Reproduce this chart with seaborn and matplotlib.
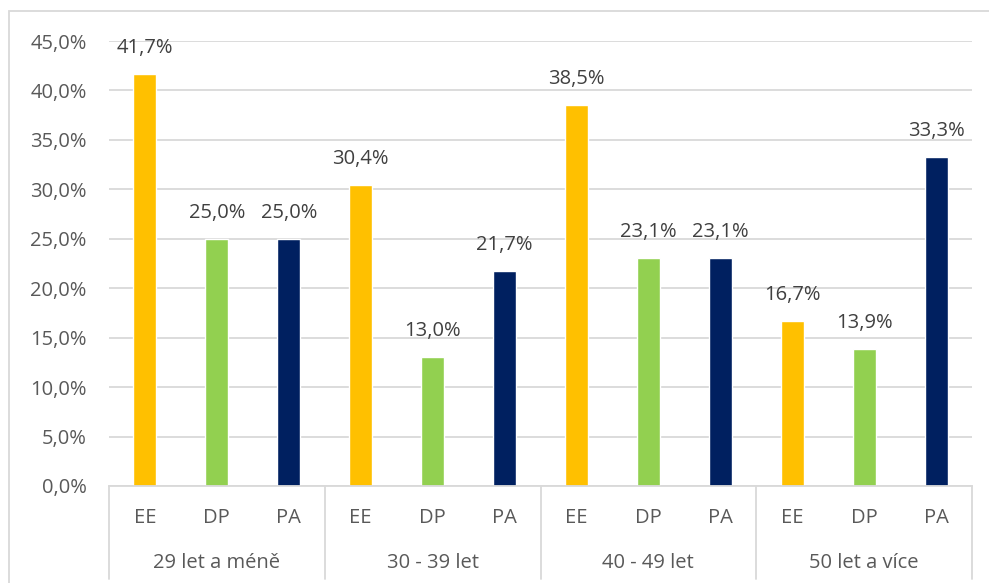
import matplotlib
matplotlib.use("Agg")
import matplotlib.pyplot as plt
import matplotlib.ticker as mticker
from matplotlib.patches import Rectangle
import pandas as pd
import seaborn as sns

groups = ["29 let a méně", "30 - 39 let", "40 - 49 let", "50 let a více"]
series = ["EE", "DP", "PA"]
ee = [41.7, 30.4, 38.5, 16.7]
dp = [25.0, 13.0, 23.1, 13.9]
pa = [25.0, 21.7, 23.1, 33.3]
colors = {"EE": "#FFC000", "DP": "#92D050", "PA": "#002060"}

rows = []
for i, g in enumerate(groups):
    for s, vals in zip(series, [ee, dp, pa]):
        rows.append({"key": g + "|" + s, "group": g, "series": s,
                     "value": vals[i] / 100})
df = pd.DataFrame(rows)

sns.set_style("white")
plt.rcParams["font.family"] = ["Open Sans", "DejaVu Sans"]
FS = 14.5

W, H = 989, 583
fig = plt.figure(figsize=(W / 100, H / 100), dpi=100)
left, right, top, bottom = 109, 972, 41, 486
ax = fig.add_axes([left / W, (H - bottom) / H, (right - left) / W,
                   (bottom - top) / H])

sns.barplot(data=df, x="key", y="value", hue="series", palette=colors,
            dodge=False, width=0.32, legend=False, ax=ax, saturation=1)

ax.set_ylim(0, 0.45)
ax.set_xlim(-0.5, len(df) - 0.5)
ax.yaxis.set_major_locator(mticker.MultipleLocator(0.05))
ax.yaxis.set_major_formatter(mticker.FuncFormatter(
    lambda v, p: f"{v * 100:.1f}%".replace(".", ",")))
ax.grid(axis="y", color="#D9D9D9", linewidth=1.3)
ax.set_axisbelow(True)
for sp in ["top", "right", "left"]:
    ax.spines[sp].set_visible(False)
ax.spines["bottom"].set_color("#D9D9D9")
ax.spines["bottom"].set_linewidth(1.3)
ax.set_xlabel("")
ax.set_ylabel("")
ax.tick_params(axis="y", length=0, pad=16, labelsize=FS, labelcolor="#595959")
ax.tick_params(axis="x", length=0, pad=16, labelsize=FS, labelcolor="#595959")
ax.set_xticks(range(len(df)))
ax.set_xticklabels(df["series"])

# data labels
for i, v in enumerate(df["value"]):
    ax.annotate(f"{v * 100:.1f}%".replace(".", ","), (i, v),
                xytext=(0, 16), textcoords="offset pixels",
                ha="center", va="bottom", fontsize=FS, color="#404040")

# group labels and separators
trans = ax.get_xaxis_transform()
depth = (579 - bottom) / (bottom - top)
for k in range(len(groups) + 1):
    ax.plot([k * 3 - 0.5, k * 3 - 0.5], [0, -depth], transform=trans,
            color="#D9D9D9", linewidth=1.3, clip_on=False)
lab_y = -(563 - bottom) / (bottom - top)
for k, g in enumerate(groups):
    ax.text(k * 3 + 1, lab_y, g, transform=trans, ha="center", va="center",
            fontsize=FS, color="#595959")

# chart border
fig.patches.append(Rectangle((9 / W, -0.1), 1.2, (H - 11) / H + 0.1,
                             transform=fig.transFigure, fill=False,
                             edgecolor="#D9D9D9", linewidth=1.3))

fig.savefig("out.png", dpi=100)
